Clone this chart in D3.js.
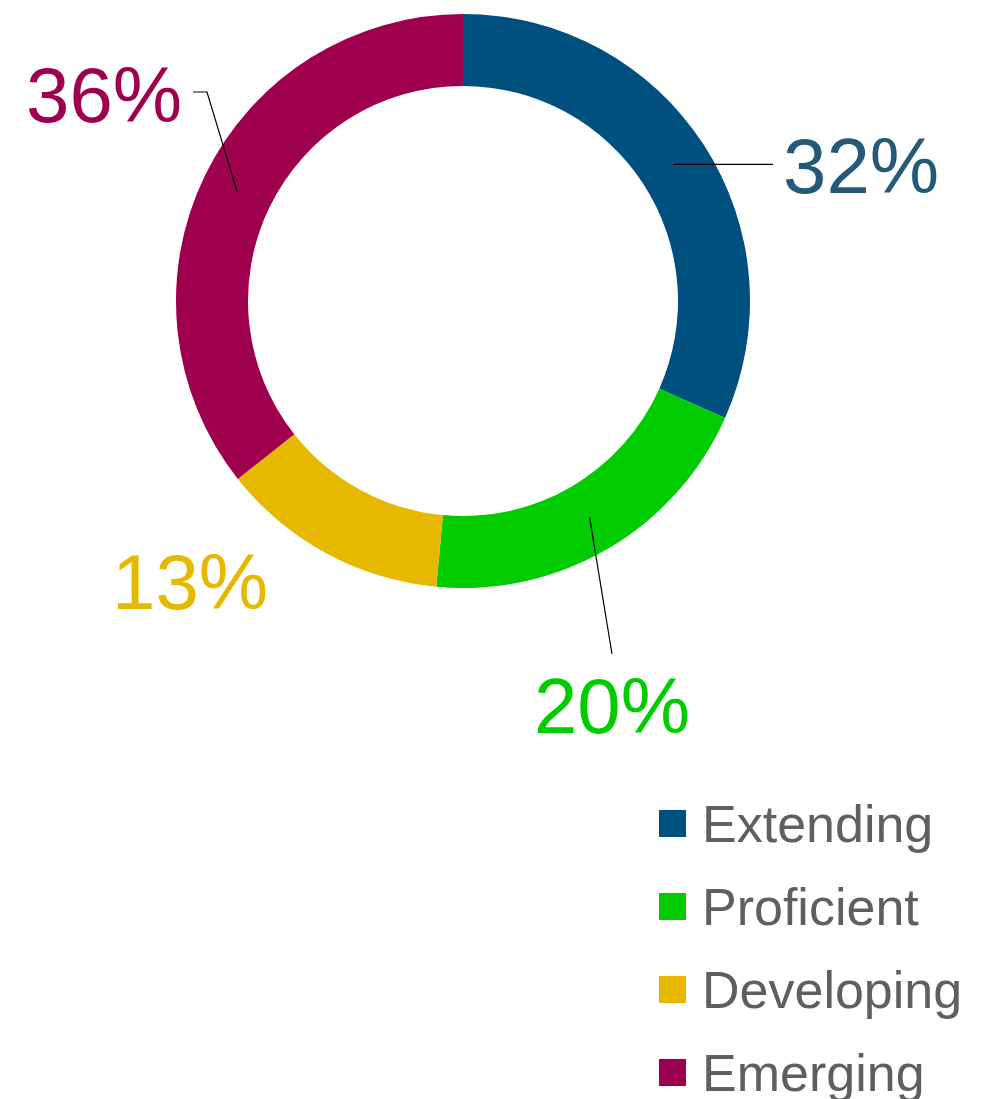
<!DOCTYPE html>
<html>
<head>
<meta charset="utf-8">
<script src="https://cdn.jsdelivr.net/npm/d3@7"></script>
<style>
  html, body { margin: 0; padding: 0; background: #fff; }
  svg { display: block; font-family: "Liberation Sans", Arial, sans-serif; }
</style>
</head>
<body>
<div id="chart"></div>
<script>
const categories = ["Extending", "Proficient", "Developing", "Emerging"];
const values = [32, 20, 13, 36];
const labels = ["32%", "20%", "13%", "36%"];
const colors = ["#00507f", "#00cc00", "#e6b900", "#9e004e"];
const labelColors = ["#245a78", "#00cc00", "#e6b900", "#9e004e"];

const width = 993;
const height = 1099;
const cx = 463;
const cy = 301;
const outerR = 287;
const innerR = 215;

const svg = d3
  .select("#chart")
  .append("svg")
  .attr("width", width)
  .attr("height", height)
  .attr("viewBox", [0, 0, width, height]);

const pie = d3.pie().sort(null).value((d) => d);
const arcs = pie(values);

const arc = d3.arc().innerRadius(innerR).outerRadius(outerR);

const g = svg.append("g").attr("transform", `translate(${cx},${cy})`);

g.selectAll("path")
  .data(arcs)
  .join("path")
  .attr("d", arc)
  .attr("fill", (d, i) => colors[i]);

// label placement: leader end point (relative to centre) and text anchor point
// a null y in a leader point means "same y as the slice centroid"
const labelLayout = [
  { line: [[310, null]], text: [320, -108], anchor: "start" },
  { line: [[149, 353]], text: [149, 432], anchor: "middle" },
  { line: null, text: [-351, 308], anchor: "start" },
  { line: [[-256, -209], [-270, -209]], text: [-437, -179], anchor: "start" },
];

arcs.forEach((d, i) => {
  const c = arc.centroid(d);
  const lay = labelLayout[i];
  if (lay.line) {
    const pts = [c].concat(lay.line.map((p) => [p[0], p[1] == null ? c[1] : p[1]]));
    g.append("path")
      .attr("d", d3.line()(pts))
      .attr("fill", "none")
      .attr("stroke", "#000")
      .attr("stroke-width", 1.2);
  }
  g.append("text")
    .attr("x", lay.text[0])
    .attr("y", lay.text[1])
    .attr("text-anchor", lay.anchor)
    .attr("font-size", 78)
    .attr("fill", labelColors[i])
    .text(labels[i]);
});

// legend
const legend = svg
  .append("g")
  .attr("transform", "translate(659,810)")
  .selectAll("g")
  .data(categories)
  .join("g")
  .attr("transform", (d, i) => `translate(0,${i * 83})`);

legend
  .append("rect")
  .attr("width", 27)
  .attr("height", 27)
  .attr("fill", (d, i) => colors[i]);

legend
  .append("text")
  .attr("x", 43)
  .attr("y", 32)
  .attr("font-size", 52)
  .attr("fill", "#5f5f5f")
  .text((d) => d);
</script>
</body>
</html>
